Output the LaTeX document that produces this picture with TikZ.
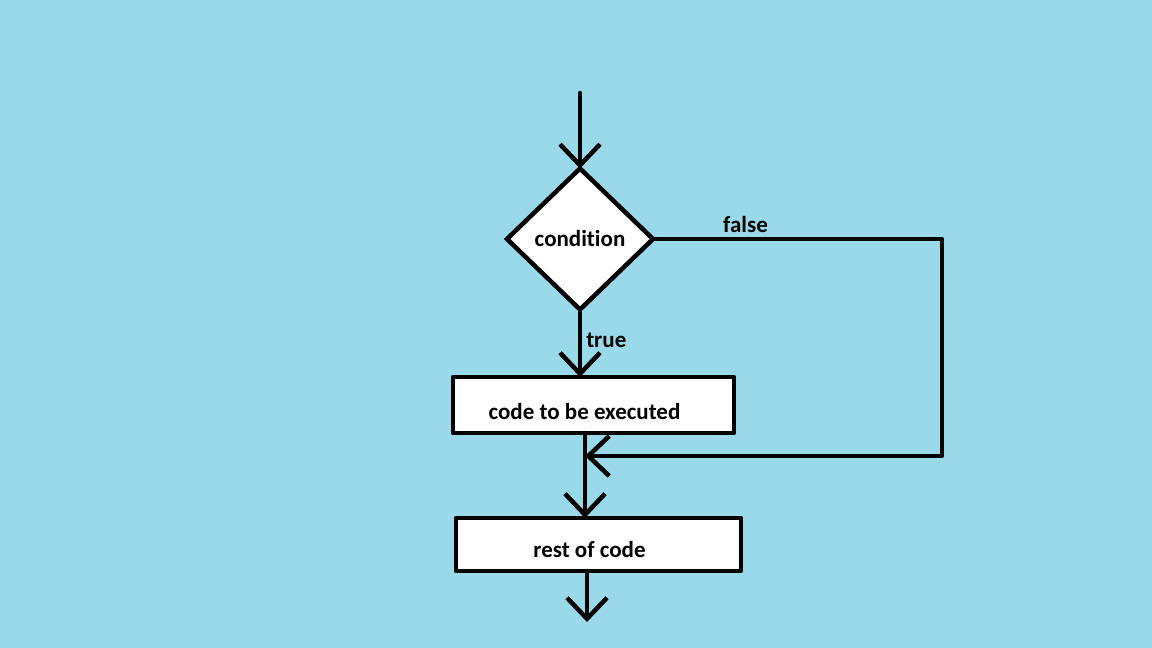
\documentclass[tikz,border=0pt]{standalone}
\usepackage{fontspec}
\setmainfont{Carlito}[Ligatures=NoCommon]
\usetikzlibrary{arrows.meta,shapes.geometric}

\definecolor{skyback}{RGB}{153,217,234}

\tikzset{
  flowbox/.style={draw=black,fill=white,line width=4.5pt,rectangle,inner sep=0pt,outer sep=0pt},
  boxtext/.style={inner sep=0pt,font=\fontsize{23}{27}\selectfont\bfseries},
  decision/.style={draw=black,fill=white,line width=4.5pt,diamond,line join=miter,inner sep=0pt,outer sep=0pt,minimum width=146pt,minimum height=141pt,font=\fontsize{23}{27}\selectfont\bfseries},
  flowline/.style={line width=4.5pt,->},
  edgelabel/.style={inner sep=4pt,font=\fontsize{23}{27}\selectfont\bfseries}
}

\begin{document}
\begin{tikzpicture}[line cap=round,line join=round,>={Straight Barb[length=21pt,width=40pt]},x=1pt,y=-1pt]
    \fill[skyback] (0,0) rectangle (1152,648);
    \useasboundingbox (0,0) rectangle (1152,648);
    \node[decision] (cond) at (580,239) {condition};
    \node[flowbox,minimum width=281pt,minimum height=56pt,
          label={[boxtext,shift={(-9,7)}]center:code to be executed}] (code) at (593.5,405) {};
    \node[flowbox,minimum width=285pt,minimum height=53pt,
          label={[boxtext,shift={(-9,5)}]center:rest of code}] (rest) at (598.5,544.5) {};
    \coordinate (start) at (580,93);
    \coordinate (corner) at (942,239);
    \coordinate (merge) at (585,456);
    \coordinate (finish) at (587,622);
    \draw[flowline] (start) -- (cond.north);
    \draw[flowline] (cond.south) -- node[edgelabel,right,pos=.45]{true} (cond.south |- code.north);
    \draw[flowline] (cond.east) -- node[edgelabel,above,pos=.32]{false} (corner) |- (merge);
    \draw[flowline] (merge |- code.south) -- (merge |- rest.north);
    \draw[flowline] (finish |- rest.south) -- (finish);
\end{tikzpicture}
\end{document}
